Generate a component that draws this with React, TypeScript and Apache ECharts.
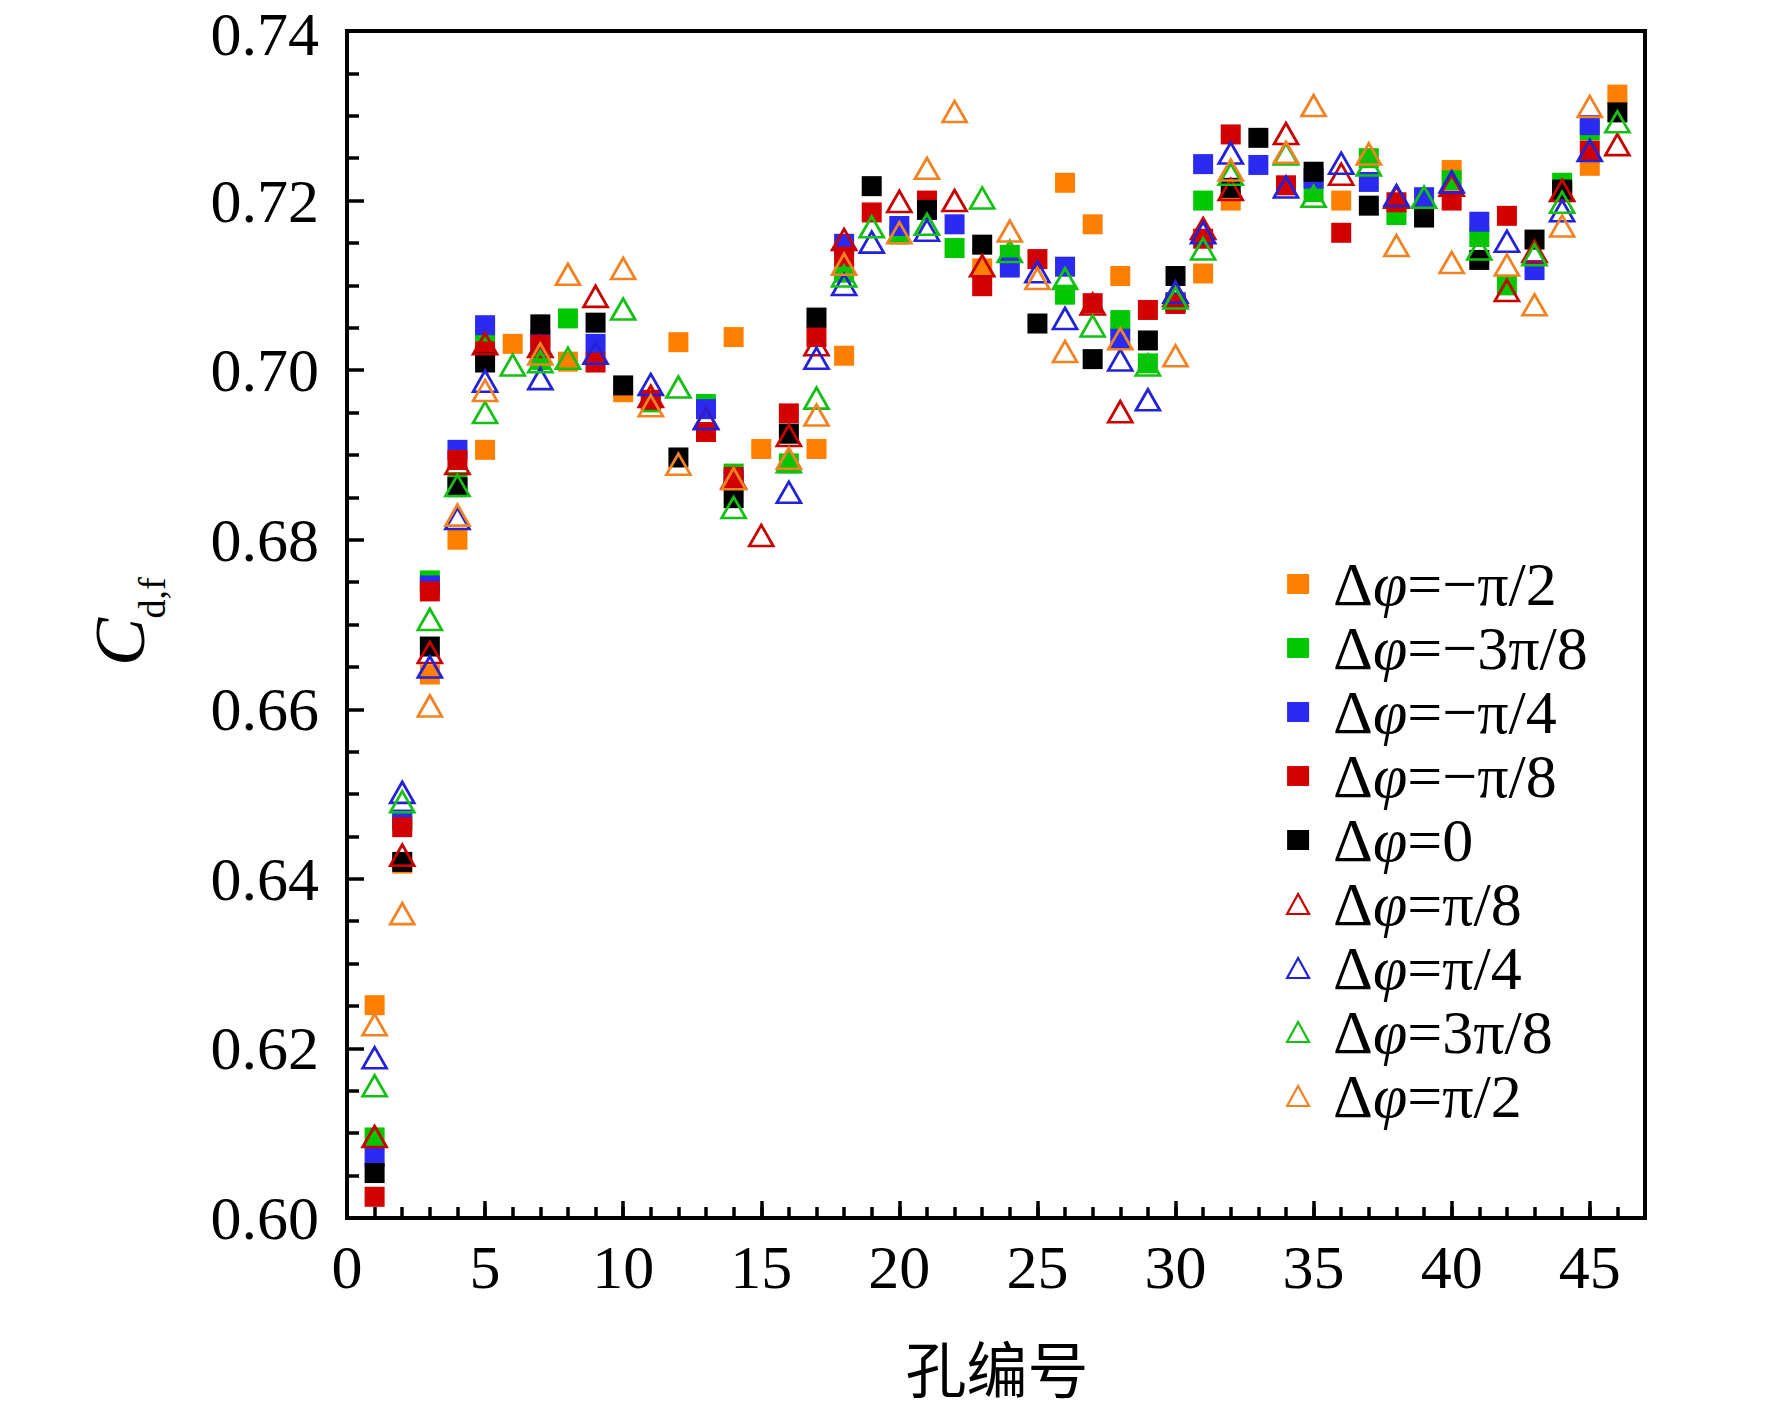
import React, { useEffect, useRef } from 'react';
import * as echarts from 'echarts';

const FONT = '"Liberation Serif", "Times New Roman", serif';

const HOLES = [1, 2, 3, 4, 5, 6, 7, 8, 9, 10, 11, 12, 13, 14, 15, 16, 17, 18, 19, 20, 21, 22, 23, 24, 25, 26, 27, 28, 29, 30, 31, 32, 33, 34, 35, 36, 37, 38, 39, 40, 41, 42, 43, 44, 45, 46];

const X_TICK_LABELS = ['0', '5', '10', '15', '20', '25', '30', '35', '40', '45'];

// Δφ = −π/2 (orange squares)
const sqOrange = [0.6251, 0.6418, 0.6641, 0.6800, 0.6906, 0.7031, null, 0.7010, null, 0.6974,
  null, 0.7033, null, 0.7039, 0.6907, null, 0.6907, 0.7017, null, null,
  null, null, 0.7120, null, null, 0.7221, 0.7172, 0.7111, null, null,
  0.7114, 0.7200, null, null, null, 0.7200, null, null, null, 0.7236,
  null, null, null, null, 0.7241, 0.7325];
// Δφ = −3π/8 (green squares)
const sqGreen = [0.6095, 0.6468, 0.6752, 0.6868, 0.7045, null, 0.7012, 0.7061, null, null,
  0.6962, null, 0.6960, 0.6878, null, 0.6890, null, 0.7115, null, 0.7160,
  null, 0.7144, null, 0.7136, null, 0.7089, null, 0.7059, 0.7008, 0.7080,
  0.7200, null, null, null, 0.7210, null, 0.7250, 0.7183, null, 0.7224,
  0.7157, 0.7100, null, 0.7221, 0.7283, null];
// Δφ = −π/4 (blue squares)
const sqBlue = [0.6072, 0.6470, 0.6746, 0.6906, 0.7053, null, 0.7036, null, 0.7031, null,
  null, null, 0.6954, 0.6870, null, null, null, 0.7149, null, 0.7170,
  null, 0.7172, null, 0.7121, null, 0.7122, null, 0.7037, null, 0.7080,
  0.7243, null, 0.7242, null, 0.7226, null, 0.7222, null, 0.7204, null,
  0.7175, null, 0.7118, null, 0.7289, null];
// Δφ = −π/8 (red squares)
const sqRed = [0.6025, 0.6461, 0.6739, 0.6894, 0.7022, null, 0.7030, null, 0.7009, null,
  0.6965, null, 0.6927, 0.6874, null, 0.6949, 0.7039, 0.7134, 0.7186, null,
  0.7200, null, 0.7099, null, 0.7131, null, 0.7079, null, 0.7071, 0.7078,
  0.7155, 0.7278, null, 0.7218, null, 0.7162, null, 0.7198, null, 0.7200,
  null, 0.7182, null, 0.7210, 0.7259, null];
// Δφ = 0 (black squares)
const sqBlack = [0.6053, 0.6420, 0.6674, 0.6862, 0.7009, null, 0.7054, null, 0.7056, 0.6982,
  null, 0.6897, null, 0.6849, null, 0.6925, 0.7062, null, 0.7217, null,
  0.7189, null, 0.7148, null, 0.7055, null, 0.7013, null, 0.7035, 0.7111,
  null, 0.7215, 0.7274, null, 0.7234, null, 0.7194, null, 0.7180, null,
  0.7130, null, 0.7154, 0.7213, null, 0.7304];
// Δφ = π/8 (red triangles)
const triRed = [0.6096, 0.6428, 0.6667, 0.6890, 0.7031, null, 0.7028, null, 0.7087, null,
  0.6969, null, 0.6943, 0.6873, 0.6805, 0.6923, 0.7030, 0.7154, null, 0.7199,
  null, 0.7200, 0.7123, null, null, null, 0.7078, 0.6951, null, 0.7088,
  0.7167, 0.7213, null, 0.7279, null, 0.7231, null, 0.7204, null, 0.7218,
  null, 0.7094, 0.7140, 0.7212, null, 0.7266];
// Δφ = π/4 (blue triangles)
const triBlue = [0.6189, 0.6502, 0.6650, 0.6825, 0.6987, null, 0.6990, null, 0.7020, null,
  0.6983, null, 0.6943, null, null, 0.6856, 0.7014, 0.7101, 0.7151, null,
  0.7165, null, null, null, 0.7116, 0.7061, null, 0.7012, 0.6965, 0.7092,
  0.7162, 0.7256, null, 0.7216, null, 0.7244, null, 0.7206, null, 0.7222,
  null, 0.7152, null, 0.7188, 0.7259, null];
// Δφ = 3π/8 (green triangles)
const triGreen = [0.6156, 0.6491, 0.6706, 0.6864, 0.6950, 0.7006, 0.7010, 0.7014, null, 0.7072,
  null, 0.6980, null, 0.6838, null, 0.6892, 0.6967, 0.7111, 0.7169, null,
  0.7172, null, 0.7203, 0.7140, null, 0.7108, 0.7052, null, 0.7006, 0.7085,
  0.7143, 0.7231, null, 0.7255, 0.7205, null, 0.7242, null, 0.7204, null,
  0.7143, null, 0.7136, 0.7198, null, 0.7293];
// Δφ = π/2 (orange triangles)
const triOrange = [0.6228, 0.6359, 0.6604, 0.6829, 0.6976, null, 0.7019, 0.7113, null, 0.7120,
  0.6958, 0.6889, null, 0.6872, null, 0.6896, 0.6947, 0.7125, null, 0.7162,
  0.7238, 0.7305, null, 0.7164, 0.7108, 0.7022, null, 0.7037, null, 0.7017,
  null, 0.7236, null, 0.7257, 0.7312, null, 0.7255, 0.7147, null, 0.7127,
  null, 0.7124, 0.7077, 0.7170, 0.7311, null];

const SERIES_NAMES = ['Δφ=−π/2', 'Δφ=−3π/8', 'Δφ=−π/4', 'Δφ=−π/8', 'Δφ=0', 'Δφ=π/8', 'Δφ=π/4', 'Δφ=3π/8', 'Δφ=π/2'];
const SERIES_VALUES = [sqOrange, sqGreen, sqBlue, sqRed, sqBlack, triRed, triBlue, triGreen, triOrange];
const SERIES_COLORS = ['#FF8000', '#00C800', '#2A2AF0', '#D20000', '#000000', '#C80000', '#2222D8', '#14C014', '#F28222'];
const SERIES_TRI = [false, false, false, false, false, true, true, true, true];

function buildOption() {
  const series = SERIES_NAMES.map((name, k) => {
    const tri = SERIES_TRI[k];
    const data: number[][] = [];
    SERIES_VALUES[k].forEach((v, i) => {
      if (v !== null && v !== undefined) data.push([HOLES[i], v as number]);
    });
    return {
      type: 'scatter',
      name,
      xAxisIndex: 0,
      yAxisIndex: 0,
      symbol: tri ? 'triangle' : 'rect',
      symbolSize: tri ? [24, 21] : 20,
      itemStyle: tri
        ? { color: 'rgba(0,0,0,0)', borderColor: SERIES_COLORS[k], borderWidth: 2.7, opacity: 1 }
        : { color: SERIES_COLORS[k], borderWidth: 0, opacity: 1 },
      emphasis: { disabled: true },
      silent: true,
      data,
    };
  });

  const axisLineStyle = { color: '#000', width: 4 };
  const tickLine = { color: '#000', width: 3.5 };

  return {
    animation: false,
    backgroundColor: '#ffffff',
    grid: {
      left: 347,
      top: 31,
      width: 1298,
      height: 1187,
      show: true,
      containLabel: false,
      outerBoundsMode: 'none',
      borderColor: '#000',
      borderWidth: 4,
      backgroundColor: 'rgba(0,0,0,0)',
    },
    xAxis: [
      {
        type: 'value',
        position: 'bottom',
        min: 0,
        max: 47,
        interval: 1,
        axisLine: { show: true, onZero: false, lineStyle: axisLineStyle },
        axisTick: { show: true, inside: true, length: 11, lineStyle: tickLine },
        axisLabel: { show: false },
        splitLine: { show: false },
      },
      {
        type: 'value',
        position: 'bottom',
        min: 0,
        max: 47,
        interval: 5,
        axisLine: { show: false, onZero: false },
        axisTick: { show: true, inside: true, length: 17, lineStyle: tickLine },
        axisLabel: {
          show: true,
          margin: 24,
          fontSize: 62,
          lineHeight: 50,
          fontFamily: FONT,
          color: '#000',
          showMaxLabel: false,
          formatter: (v: number) => (X_TICK_LABELS.indexOf(String(v)) >= 0 ? String(v) : ''),
        },
        splitLine: { show: false },
      },
    ],
    yAxis: {
      type: 'value',
      min: 0.6,
      max: 0.74,
      interval: 0.02,
      axisLine: { show: true, onZero: false, lineStyle: axisLineStyle },
      axisTick: { show: true, inside: true, length: 17, lineStyle: tickLine },
      minorTick: { show: true, splitNumber: 4, length: 12, lineStyle: tickLine },
      axisLabel: {
        margin: 28,
        fontSize: 62,
        lineHeight: 50,
        fontFamily: FONT,
        color: '#000',
        formatter: (v: number) => (Math.abs(v - 0.74) < 1e-9 ? `{t|${v.toFixed(2)}}` : v.toFixed(2)),
        rich: {
          t: { fontSize: 62, fontFamily: FONT, color: '#000', lineHeight: 50, padding: [6, 0, 0, 0] },
        },
      },
      splitLine: { show: false },
      minorSplitLine: { show: false },
    },
    legend: {
      orient: 'vertical',
      left: 1286,
      top: 552,
      padding: 0,
      itemGap: 0,
      itemWidth: 22,
      itemHeight: 20,
      selectedMode: false,
      data: SERIES_NAMES.map((name, k) => ({
        name,
        icon: SERIES_TRI[k] ? 'triangle' : 'rect',
        itemStyle: SERIES_TRI[k]
          ? { color: 'rgba(0,0,0,0)', borderColor: SERIES_COLORS[k], borderWidth: 2.2, opacity: 1 }
          : { color: SERIES_COLORS[k], borderWidth: 0, opacity: 1 },
      })),
      formatter: (name: string) => `{sp|}{n|Δ}{i|φ}{n|${name.slice(2)}}`,
      textStyle: {
        color: '#000',
        fontSize: 62,
        fontFamily: FONT,
        lineHeight: 64,
        rich: {
          sp: { width: 19, lineHeight: 64 },
          n: { fontSize: 62, fontFamily: FONT, color: '#000', lineHeight: 64 },
          i: { fontSize: 62, fontFamily: FONT, fontStyle: 'italic', color: '#000', lineHeight: 64 },
        },
      },
    },
    graphic: [
      {
        type: 'text',
        x: 120,
        y: 642,
        rotation: Math.PI / 2,
        silent: true,
        style: {
          text: 'C',
          font: `italic 72px ${FONT}`,
          lineHeight: 60,
          fill: '#000',
          textAlign: 'center',
          textVerticalAlign: 'middle',
          align: 'center',
          verticalAlign: 'middle',
        },
      },
      {
        type: 'text',
        x: 152,
        y: 598,
        rotation: Math.PI / 2,
        silent: true,
        style: {
          text: 'd,f',
          font: `38px ${FONT}`,
          lineHeight: 34,
          fill: '#000',
          textAlign: 'center',
          textVerticalAlign: 'middle',
          align: 'center',
          verticalAlign: 'middle',
        },
      },
      {
        type: 'text',
        x: 997,
        y: 1366,
        silent: true,
        style: {
          text: '孔编号',
          font: `61px "Noto Sans CJK SC", sans-serif`,
          lineHeight: 61,
          fill: '#000',
          textAlign: 'center',
          textVerticalAlign: 'middle',
          align: 'center',
          verticalAlign: 'middle',
        },
      },
    ],
    series,
  };
}

export default function App() {
  const ref = useRef<HTMLDivElement>(null);
  useEffect(() => {
    if (!ref.current) return;
    const chart = echarts.init(ref.current, null, { renderer: 'svg' });
    chart.setOption(buildOption() as any);
    return () => chart.dispose();
  }, []);
  return (
    <div
      ref={ref}
      style={{ position: 'absolute', left: 0, top: 0, width: 1772, height: 1414, background: '#fff' }}
    />
  );
}
